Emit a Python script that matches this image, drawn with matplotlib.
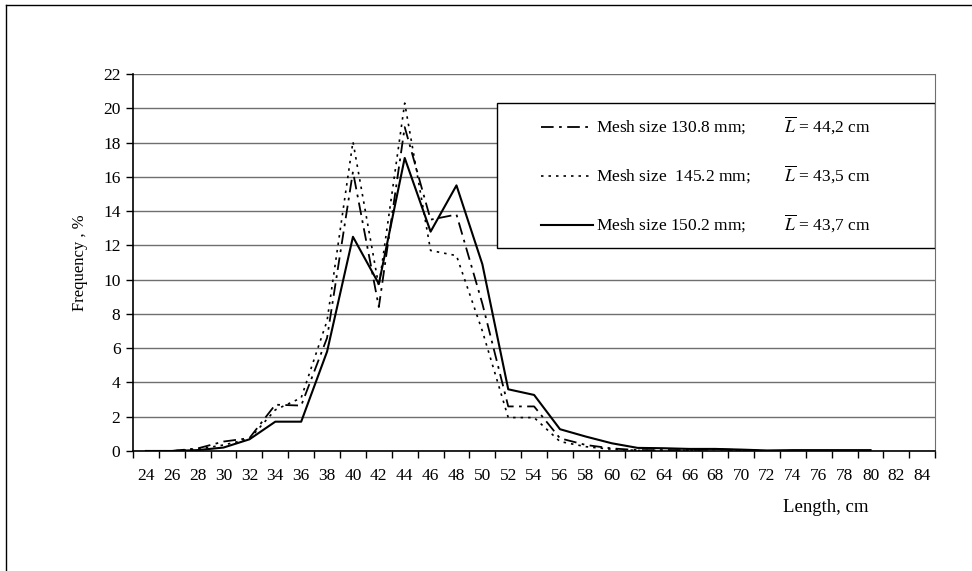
import numpy as np
import matplotlib
matplotlib.use("Agg")
import matplotlib.pyplot as plt
from matplotlib.lines import Line2D
from matplotlib.patches import Rectangle

plt.rcParams['font.family'] = ['Liberation Serif', 'DejaVu Serif']
plt.rcParams['mathtext.fontset'] = 'stix'

# length classes, cm
lengths = list(range(24, 86, 2))
nan = np.nan

# frequency, %
mesh_130 = [0, 0, 0.15, 0.55, 0.75, 2.7, 2.65, 6.6, 16.3, 8.4, 18.9, 13.5, 13.8, 8.6,
            2.6, 2.6, 0.74, 0.35, 0.15, 0.05, 0.05, 0.05, 0.1, 0.05, 0, 0, 0, 0, 0, nan, nan]
mesh_145 = [0, 0, 0.1, 0.35, 0.7, 2.4, 3.1, 7.6, 18.05, 9.6, 20.3, 11.7, 11.4, 7.0,
            1.95, 1.95, 0.55, 0.25, 0.1, 0.03, 0.03, 0.03, 0.1, 0.03, 0, 0, 0, 0, 0, nan, nan]
mesh_150 = [0, 0, 0.05, 0.2, 0.68, 1.71, 1.71, 5.8, 12.5, 9.75, 17.1, 12.8, 15.5, 10.9,
            3.6, 3.27, 1.27, 0.84, 0.45, 0.18, 0.16, 0.12, 0.12, 0.08, 0.03, 0.05, 0.05, 0.05, 0.05, nan, nan]

labels = ['Mesh size 130.8 mm;         $\\overline{L}$ = 44,2 cm',
          'Mesh size  145.2 mm;        $\\overline{L}$ = 43,5 cm',
          'Mesh size 150.2 mm;         $\\overline{L}$ = 43,7 cm']

fig = plt.figure(figsize=(9.72, 5.71), dpi=100)
ax = fig.add_axes([0.1368, 0.2102, 0.8254, 0.6602])

x = np.arange(len(lengths))
ax.plot(x, mesh_130, color='black', lw=1.3, dashes=(7, 3, 1.5, 3), label=labels[0])
ax.plot(x, mesh_145, color='black', lw=1.2, dashes=(1.5, 3), label=labels[1])
ax.plot(x, mesh_150, color='black', lw=1.5, label=labels[2])

ax.set_xlim(-0.5, len(lengths) - 0.5)
ax.set_ylim(0, 22)
ax.set_yticks(range(0, 23, 2))
ax.yaxis.grid(True, color='#6f6f6f', lw=1)
ax.set_axisbelow(True)

# category axis: labels centred, ticks on the boundaries
ax.set_xticks(x)
ax.set_xticklabels([str(v) for v in lengths])
ax.set_xticks(np.arange(-0.5, len(lengths), 1), minor=True)
ax.tick_params(axis='x', which='major', length=0, pad=12, labelsize=12.5)
ax.tick_params(axis='x', which='minor', length=5, direction='out', width=1)
ax.tick_params(axis='y', length=5, direction='out', width=1, labelsize=12.5, pad=4)

for s in ['left', 'bottom']:
    ax.spines[s].set_color('black')
    ax.spines[s].set_linewidth(1.2)
ax.spines['top'].set_visible(False)
ax.spines['right'].set_color('#6f6f6f')

ax.set_ylabel('Frequency , %', fontsize=12, labelpad=11)
fig.text(0.85, 0.112, 'Length, cm', fontsize=13.5, ha='center', va='center')

# legend box drawn separately so it can be wider than its content
ax.add_patch(Rectangle((0.454, 0.538), 0.546, 0.385, transform=ax.transAxes,
                       facecolor='white', edgecolor='black', lw=1.0, zorder=3))
leg = ax.legend(loc='center', bbox_to_anchor=(0.714, 0.731),
                frameon=False, fontsize=12.5,
                handlelength=3.0, handletextpad=0.2, labelspacing=1.55)
leg.set_zorder(4)

# outer frame lines (left and top)
fig.add_artist(Line2D([0.0062, 0.0062], [0.0, 0.991], color='black', lw=1,
                      transform=fig.transFigure))
fig.add_artist(Line2D([0.0062, 1.0], [0.991, 0.991], color='black', lw=1,
                      transform=fig.transFigure))

fig.savefig('out.png', dpi=100)
